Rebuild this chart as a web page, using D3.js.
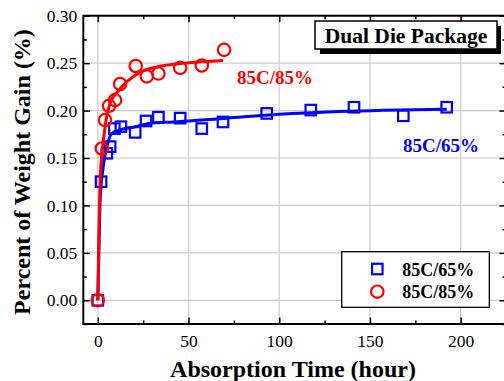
<!DOCTYPE html>
<html><head><meta charset="utf-8">
<script src="https://cdn.jsdelivr.net/npm/d3@7"></script>
<style>body{margin:0;background:#fff}svg{display:block}</style>
</head><body>
<svg id="c" width="504" height="381"></svg>
<script>
// ---- data ----
const seriesNames = ["85C/65%", "85C/85%"];
const blueX = [0, 1.8, 5, 6.8, 9.1, 12.7, 20.6, 26.6, 33.4, 45.4, 57.3, 69.0, 93.1, 117.4, 141.2, 168.4, 192.3];
const blueY = [0, 0.125, 0.155, 0.162, 0.181, 0.183, 0.177, 0.189, 0.193, 0.192, 0.181, 0.188, 0.197, 0.2005, 0.2035, 0.1945, 0.2035];
const redX = [0, 2.2, 4.0, 6.2, 9.5, 12.3, 20.9, 27.0, 33.4, 45.4, 57.3, 69.6];
const redY = [0, 0.160, 0.190, 0.205, 0.211, 0.228, 0.247, 0.236, 0.239, 0.245, 0.2475, 0.264];
// fitted curves
const blueFitX = [0, 0.7, 1.3, 3, 5, 7.7, 13, 20.6, 30, 42, 71, 100, 133, 192.3];
const blueFitY = [0, 0.06, 0.106, 0.141, 0.162, 0.176, 0.180, 0.183, 0.187, 0.188, 0.192, 0.196, 0.199, 0.2015];
const redFitX = [0, 0.6, 1.3, 2.5, 4, 5.5, 7, 11, 17, 24, 35, 48, 69];
const redFitY = [0, 0.07, 0.127, 0.158, 0.183, 0.199, 0.209, 0.220, 0.232, 0.241, 0.247, 0.250, 0.2527];
const xTicks = [0, 50, 100, 150, 200];
const xMinor = [25, 75, 125, 175, 225];
const yTicks = [0, 0.05, 0.10, 0.15, 0.20, 0.25, 0.30];
const yMinor = [-0.025, 0.025, 0.075, 0.125, 0.175, 0.225, 0.275];
const titleText = "Dual Die Package";
const xLabel = "Absorption Time (hour)";
const yLabel = "Percent of Weight Gain (%)";

const BLUE = "#0000ff", RED = "#ff0000";
const svg = d3.select("#c");
const L = 83.3, R = 506, T = 15.7, B = 324;
const x = d3.scaleLinear().domain([-8, 225]).range([L, R]);
const y = d3.scaleLinear().domain([-0.025, 0.30]).range([B, T]);
const serif = "Liberation Serif, Times New Roman, serif";

// grid
const g = svg.append("g");
g.selectAll(".gx").data(xTicks).join("line")
  .attr("x1", d => x(d)).attr("x2", d => x(d)).attr("y1", T).attr("y2", B)
  .attr("stroke", "#cccccc").attr("stroke-width", 1.2);
g.selectAll(".gy").data(yTicks).join("line")
  .attr("y1", d => y(d)).attr("y2", d => y(d)).attr("x1", L).attr("x2", R)
  .attr("stroke", "#cccccc").attr("stroke-width", 1.2);

// axes (ticks inside, mirrored)
const axB = d3.axisBottom(x).tickValues(xTicks).tickSize(-6.5).tickPadding(11).tickFormat(d3.format("d"));
const axL = d3.axisLeft(y).tickValues(yTicks).tickSize(-6.5).tickPadding(6).tickFormat(d3.format(".2f"));
const axBm = d3.axisBottom(x).tickValues(xMinor).tickSize(-3.5).tickFormat("");
const axLm = d3.axisLeft(y).tickValues(yMinor).tickSize(-3.5).tickFormat("");
const axT = d3.axisTop(x).tickValues(xTicks).tickSize(-6.5).tickFormat("");
const axTm = d3.axisTop(x).tickValues(xMinor).tickSize(-3.5).tickFormat("");
const axR = d3.axisRight(y).tickValues(yTicks).tickSize(-6.5).tickFormat("");
const axRm = d3.axisRight(y).tickValues(yMinor).tickSize(-3.5).tickFormat("");
function styleAx(sel){
  sel.select(".domain").remove();
  sel.selectAll(".tick line").attr("stroke", "#000").attr("stroke-width", 1.5);
  sel.selectAll("text").style("font-family", serif).style("font-size", "17.5px").attr("fill", "#000");
}
svg.append("g").attr("transform", `translate(0,${B})`).call(axB).call(styleAx);
svg.append("g").attr("transform", `translate(0,${B})`).call(axBm).call(styleAx);
svg.append("g").attr("transform", `translate(${L},0)`).call(axL).call(styleAx);
svg.append("g").attr("transform", `translate(${L},0)`).call(axLm).call(styleAx);
svg.append("g").attr("transform", `translate(0,${T})`).call(axT).call(styleAx);
svg.append("g").attr("transform", `translate(0,${T})`).call(axTm).call(styleAx);
svg.append("g").attr("transform", `translate(${R},0)`).call(axR).call(styleAx);
svg.append("g").attr("transform", `translate(${R},0)`).call(axRm).call(styleAx);
svg.append("rect").attr("x", L).attr("y", T).attr("width", R - L).attr("height", B - T)
  .attr("fill", "none").attr("stroke", "#000").attr("stroke-width", 2);

// series
const line = d3.line().x(d => x(d[0])).y(d => y(d[1])).curve(d3.curveMonotoneX);
const zip = (a, b) => a.map((v, i) => [v, b[i]]);
const plot = svg.append("g");
plot.append("path").datum(zip(blueFitX, blueFitY)).attr("d", line)
  .attr("fill", "none").attr("stroke", BLUE).attr("stroke-width", 3);
const sq = 10.5;
plot.selectAll(".sq").data(zip(blueX, blueY)).join("rect")
  .attr("x", d => x(d[0]) - sq / 2).attr("y", d => y(d[1]) - sq / 2)
  .attr("width", sq).attr("height", sq)
  .attr("fill", "none").attr("stroke", BLUE).attr("stroke-width", 2.2);
plot.append("path").datum(zip(redFitX, redFitY)).attr("d", line)
  .attr("fill", "none").attr("stroke", RED).attr("stroke-width", 3);
plot.selectAll(".ci").data(zip(redX, redY)).join("circle")
  .attr("cx", d => x(d[0])).attr("cy", d => y(d[1])).attr("r", 6.2)
  .attr("fill", "none").attr("stroke", RED).attr("stroke-width", 2.2);

function txt(xp, yp, s, size, color, anchor){
  return svg.append("text").attr("x", xp).attr("y", yp).text(s)
    .attr("text-anchor", anchor || "start")
    .style("font-family", serif).style("font-weight", "bold").style("font-size", size + "px")
    .attr("fill", color);
}
// annotations
txt(237, 84, seriesNames[1], 19, RED);
txt(403, 151.5, seriesNames[0], 19, BLUE);

// title box
svg.append("rect").attr("x", 320).attr("y", 26).attr("width", 181).attr("height", 28).attr("fill", "#000");
svg.append("rect").attr("x", 315).attr("y", 21).attr("width", 182).attr("height", 28)
  .attr("fill", "#fff").attr("stroke", "#000").attr("stroke-width", 1.5);
txt(406, 43, titleText, 21.5, "#000", "middle");

// legend
svg.append("rect").attr("x", 341.7).attr("y", 251.7).attr("width", 147.6).attr("height", 55.6)
  .attr("fill", "#fff").attr("stroke", "#000").attr("stroke-width", 1.3);
svg.append("rect").attr("x", 377.3 - sq / 2).attr("y", 269 - sq / 2).attr("width", sq).attr("height", sq)
  .attr("fill", "none").attr("stroke", BLUE).attr("stroke-width", 2.2);
svg.append("circle").attr("cx", 377.3).attr("cy", 291.7).attr("r", 6.2)
  .attr("fill", "none").attr("stroke", RED).attr("stroke-width", 2.2);
txt(402.3, 275.5, seriesNames[0], 18, "#000");
txt(402.3, 297.5, seriesNames[1], 18, "#000");

// axis titles
txt(293, 377, xLabel, 24, "#000", "middle");
svg.append("text").attr("transform", "translate(30,172) rotate(-90)").attr("text-anchor", "middle").text(yLabel)
  .style("font-family", serif).style("font-weight", "bold").style("font-size", "24px").attr("fill", "#000");
</script>
</body></html>
